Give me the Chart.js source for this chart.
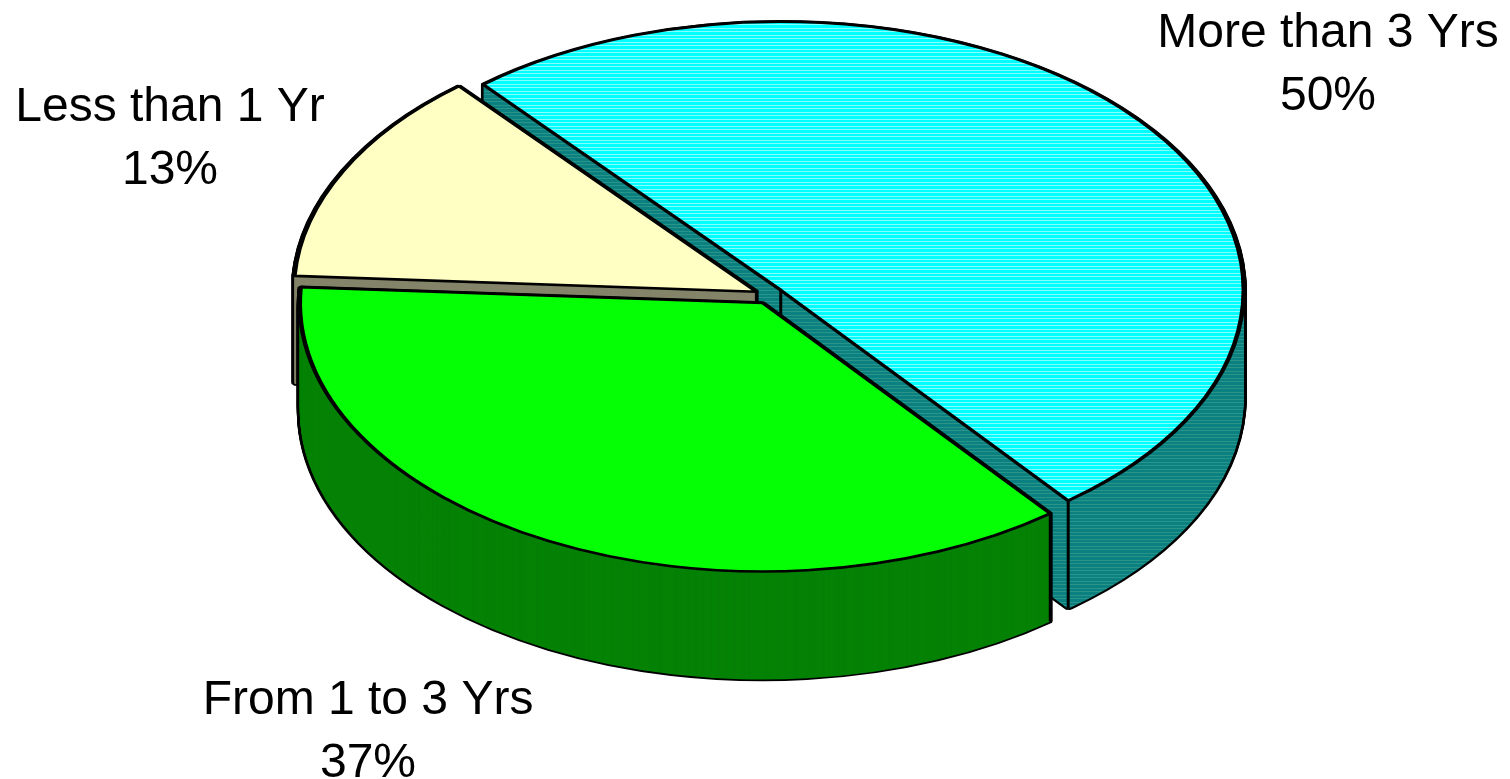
<!DOCTYPE html>
<html>
<head>
<meta charset="utf-8">
<title>Years pie</title>
<script src="https://cdn.jsdelivr.net/npm/chart.js@4"></script>
<style>
  html, body { margin: 0; padding: 0; background: #fff; overflow: hidden; }
  #pie { display: block; }
</style>
</head>
<body>
<canvas id="pie" width="1510" height="779"></canvas>
<script>
// chart values
const categories = ['More than 3 Yrs', 'From 1 to 3 Yrs', 'Less than 1 Yr'];
const shares = [50.45, 36.6, 12.95];
const shareLabels = ['50%', '37%', '13%'];

const drawOrder = [0, 2, 1]; // back to front

// how the flat pie is laid on its side
const view = { x: 769.5, y: 295.5, squash: 0.58, depth: 108, explode: 14.5 };

const labelSpots = [
    { x: 1328, y: 47 },
    { x: 368, y: 714 },
    { x: 170, y: 121 }
];

const ctx2d = document.getElementById('pie').getContext('2d');

// the reference fills are banded, 7 rows repeat
function bands(base, light) {
    const c = document.createElement('canvas');
    c.width = 1;
    c.height = 7;
    const g = c.getContext('2d');
    g.fillStyle = base;
    g.fillRect(0, 0, 1, 7);
    g.fillStyle = light;
    g.fillRect(0, 0, 1, 1);
    g.fillRect(0, 3, 1, 1);
    return ctx2d.createPattern(c, 'repeat');
}

const topColors = [bands('#00ffff', '#88ffff'), '#05ff05', '#ffffc4'];
const sideColors = [bands('#0b8080', '#2a9488'), '#058205', '#84846a'];

function drawArc(ctx, arc, opts) {
    const saved = arc.options;
    arc.options = Object.assign({}, saved, opts);
    // keep bands fixed to the screen, whatever the slice transform is
    if (opts.backgroundColor instanceof CanvasPattern) {
        opts.backgroundColor.setTransform(ctx.getTransform().inverse());
    }
    arc.draw(ctx);
    arc.options = saved;
}

// puts ctx in flat pie space for a slice, lowered by dy screen pixels
function place(ctx, arc, dy) {
    const mid = (arc.startAngle + arc.endAngle) / 2;
    ctx.translate(view.x, view.y + dy);
    ctx.scale(1, view.squash);
    ctx.translate(Math.cos(mid) * view.explode, Math.sin(mid) * view.explode);
    ctx.translate(-arc.x, -arc.y);
}

// vertical wall edges at the point of a slice and at rim corners on the front half
function drawFolds(ctx, arc) {
    const r = arc.outerRadius;
    const corners = [[arc.x, arc.y]];
    [arc.startAngle, arc.endAngle].forEach(a => {
        if (Math.sin(a) > 0) {
            corners.push([arc.x + Math.cos(a) * r, arc.y + Math.sin(a) * r]);
        }
    });
    ctx.save();
    place(ctx, arc, 0);
    const m = ctx.getTransform();
    ctx.restore();
    ctx.lineWidth = 3;
    ctx.strokeStyle = '#000';
    corners.forEach(c => {
        const p = new DOMPoint(c[0], c[1]).matrixTransform(m);
        ctx.beginPath();
        ctx.moveTo(p.x, p.y);
        ctx.lineTo(p.x, p.y + view.depth);
        ctx.stroke();
    });
}

const pie3d = {
    id: 'pie3d',
    beforeDatasetsDraw(chart) {
        const ctx = chart.ctx;
        const arcs = chart.getDatasetMeta(0).data;
        drawOrder.forEach(i => {
            const arc = arcs[i];
            // black sweep gives the outline of the side walls
            for (let dy = view.depth; dy >= 0; dy--) {
                ctx.save();
                place(ctx, arc, dy);
                drawArc(ctx, arc, { backgroundColor: '#000', borderColor: '#000', borderWidth: 6 });
                ctx.restore();
            }
            for (let dy = view.depth; dy >= 0; dy--) {
                ctx.save();
                place(ctx, arc, dy);
                drawArc(ctx, arc, { backgroundColor: sideColors[i], borderWidth: 0 });
                ctx.restore();
            }
            drawFolds(ctx, arc);
            // top face
            ctx.save();
            place(ctx, arc, 0);
            drawArc(ctx, arc, { backgroundColor: topColors[i], borderColor: '#000', borderWidth: 4.5 });
            ctx.restore();
        });
        return false;
    },
    afterDraw(chart) {
        const ctx = chart.ctx;
        ctx.save();
        ctx.fillStyle = '#000';
        ctx.font = '48px "Liberation Sans", Arial, sans-serif';
        ctx.textAlign = 'center';
        ctx.textBaseline = 'alphabetic';
        categories.forEach((name, i) => {
            ctx.fillText(name, labelSpots[i].x, labelSpots[i].y);
            ctx.fillText(shareLabels[i], labelSpots[i].x, labelSpots[i].y + 63);
        });
        ctx.restore();
    }
};

new Chart(ctx2d, {
    type: 'pie',
    data: {
        labels: categories,
        datasets: [{
            data: shares,
            backgroundColor: topColors,
            radius: 463
        }]
    },
    options: {
        responsive: false,
        animation: false,
        rotation: -40,
        plugins: {
            legend: { display: false },
            tooltip: { enabled: false }
        }
    },
    plugins: [pie3d]
});
</script>
</body>
</html>
